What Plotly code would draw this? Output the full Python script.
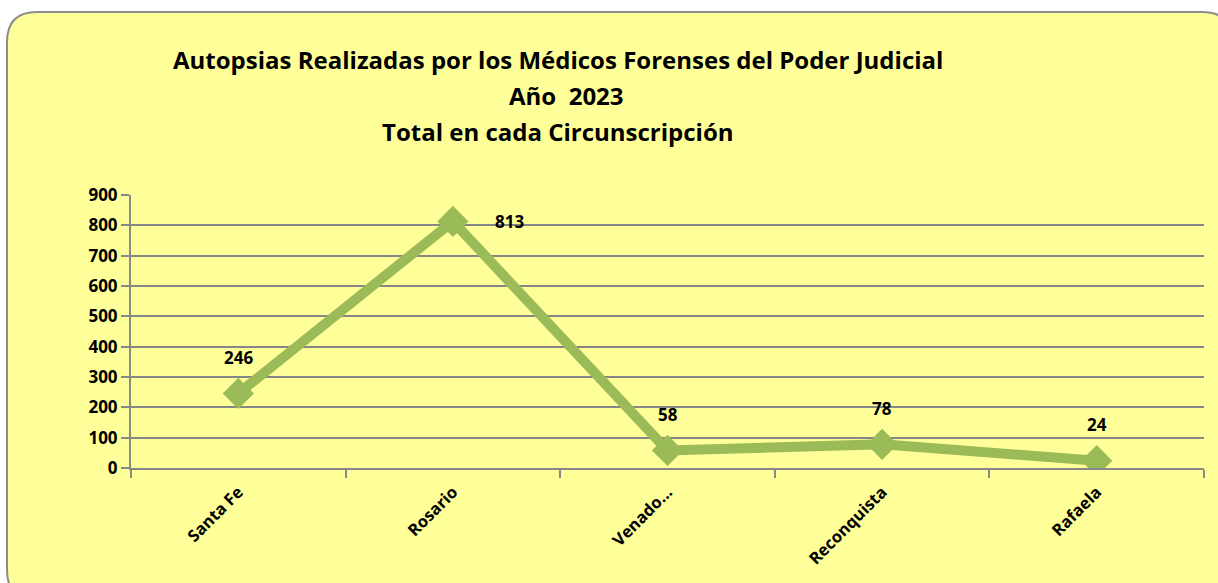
import plotly.graph_objects as go

categories = ["Santa Fe", "Rosario", "Venado...", "Reconquista", "Rafaela"]
values = [246, 813, 58, 78, 24]
label_xshift = [0, 57, 0, 0, 0]
label_yshift = [36, 0, 36, 36, 36]

W, H = 1218, 583
ml, mr, mt, mb = 131, 14, 195, 115
pw, ph = W - ml - mr, H - mt - mb

def px(x):
    return (x - ml) / pw

def py(y):
    return 1 - (y - mt) / ph

fig = go.Figure()
fig.add_trace(go.Scatter(
    x=categories, y=values, mode="lines+markers",
    line=dict(color="#9BBB59", width=10),
    marker=dict(symbol="diamond", size=24, color="#9BBB59"),
    hoverinfo="x+y", showlegend=False,
))

for c, v, xs, ys in zip(categories, values, label_xshift, label_yshift):
    fig.add_annotation(x=c, y=v, text=f"<b>{v}</b>", showarrow=False,
                       xshift=xs, yshift=ys,
                       font=dict(family="Open Sans", size=17, color="black"))

title_lines = ["Autopsias Realizadas por los Médicos Forenses del Poder Judicial",
               "Año  2023",
               "Total en cada Circunscripción"]
title_x = [558, 566, 558]
title_y = [59, 96, 131]
for t, tx, ty in zip(title_lines, title_x, title_y):
    fig.add_annotation(xref="paper", yref="paper", x=px(tx), y=py(ty),
                       text=f"<b>{t}</b>", showarrow=False,
                       xanchor="center", yanchor="middle",
                       font=dict(family="Open Sans", size=24, color="black"))

# rounded frame
x0, y0, x1, y1, r = 7, 12, 1232, 600, 30
path = (f"M {px(x0)},{py(y0 + r)} "
        f"Q {px(x0)},{py(y0)} {px(x0 + r)},{py(y0)} "
        f"L {px(x1 - r)},{py(y0)} "
        f"Q {px(x1)},{py(y0)} {px(x1)},{py(y0 + r)} "
        f"L {px(x1)},{py(y1 - r)} "
        f"Q {px(x1)},{py(y1)} {px(x1 - r)},{py(y1)} "
        f"L {px(x0 + r)},{py(y1)} "
        f"Q {px(x0)},{py(y1)} {px(x0)},{py(y1 - r)} Z")
fig.add_shape(type="path", path=path, xref="paper", yref="paper",
              fillcolor="#FFFF99", line=dict(color="#8C8C8C", width=2),
              layer="below")

fig.update_layout(
    width=W, height=H,
    margin=dict(l=ml, r=mr, t=mt, b=mb),
    paper_bgcolor="white",
    plot_bgcolor="#EFF2E8",
    font=dict(family="Open Sans", color="black"),
    xaxis=dict(
        type="category", tickson="boundaries", ticks="outside", ticklen=8,
        tickcolor="#888888", tickwidth=2, showgrid=False,
        showline=True, linecolor="#888888", linewidth=2, mirror=False,
        tickangle=-45, ticklabelstandoff=6,
        tickfont=dict(family="Open Sans", size=16.5, color="black", weight="bold"),
        range=[-0.5, 4.5], zeroline=False,
    ),
    yaxis=dict(
        range=[0, 900], dtick=100, ticks="outside", ticklen=8,
        tickcolor="#888888", tickwidth=2,
        showgrid=True, gridcolor="#868686", gridwidth=2,
        showline=True, linecolor="#888888", linewidth=2,
        zeroline=False,
        tickfont=dict(family="Open Sans", size=17, color="black", weight="bold"),
    ),
)

fig.write_html("out.html", config={"displayModeBar": False},
               post_script="document.body.style.margin='0';")
